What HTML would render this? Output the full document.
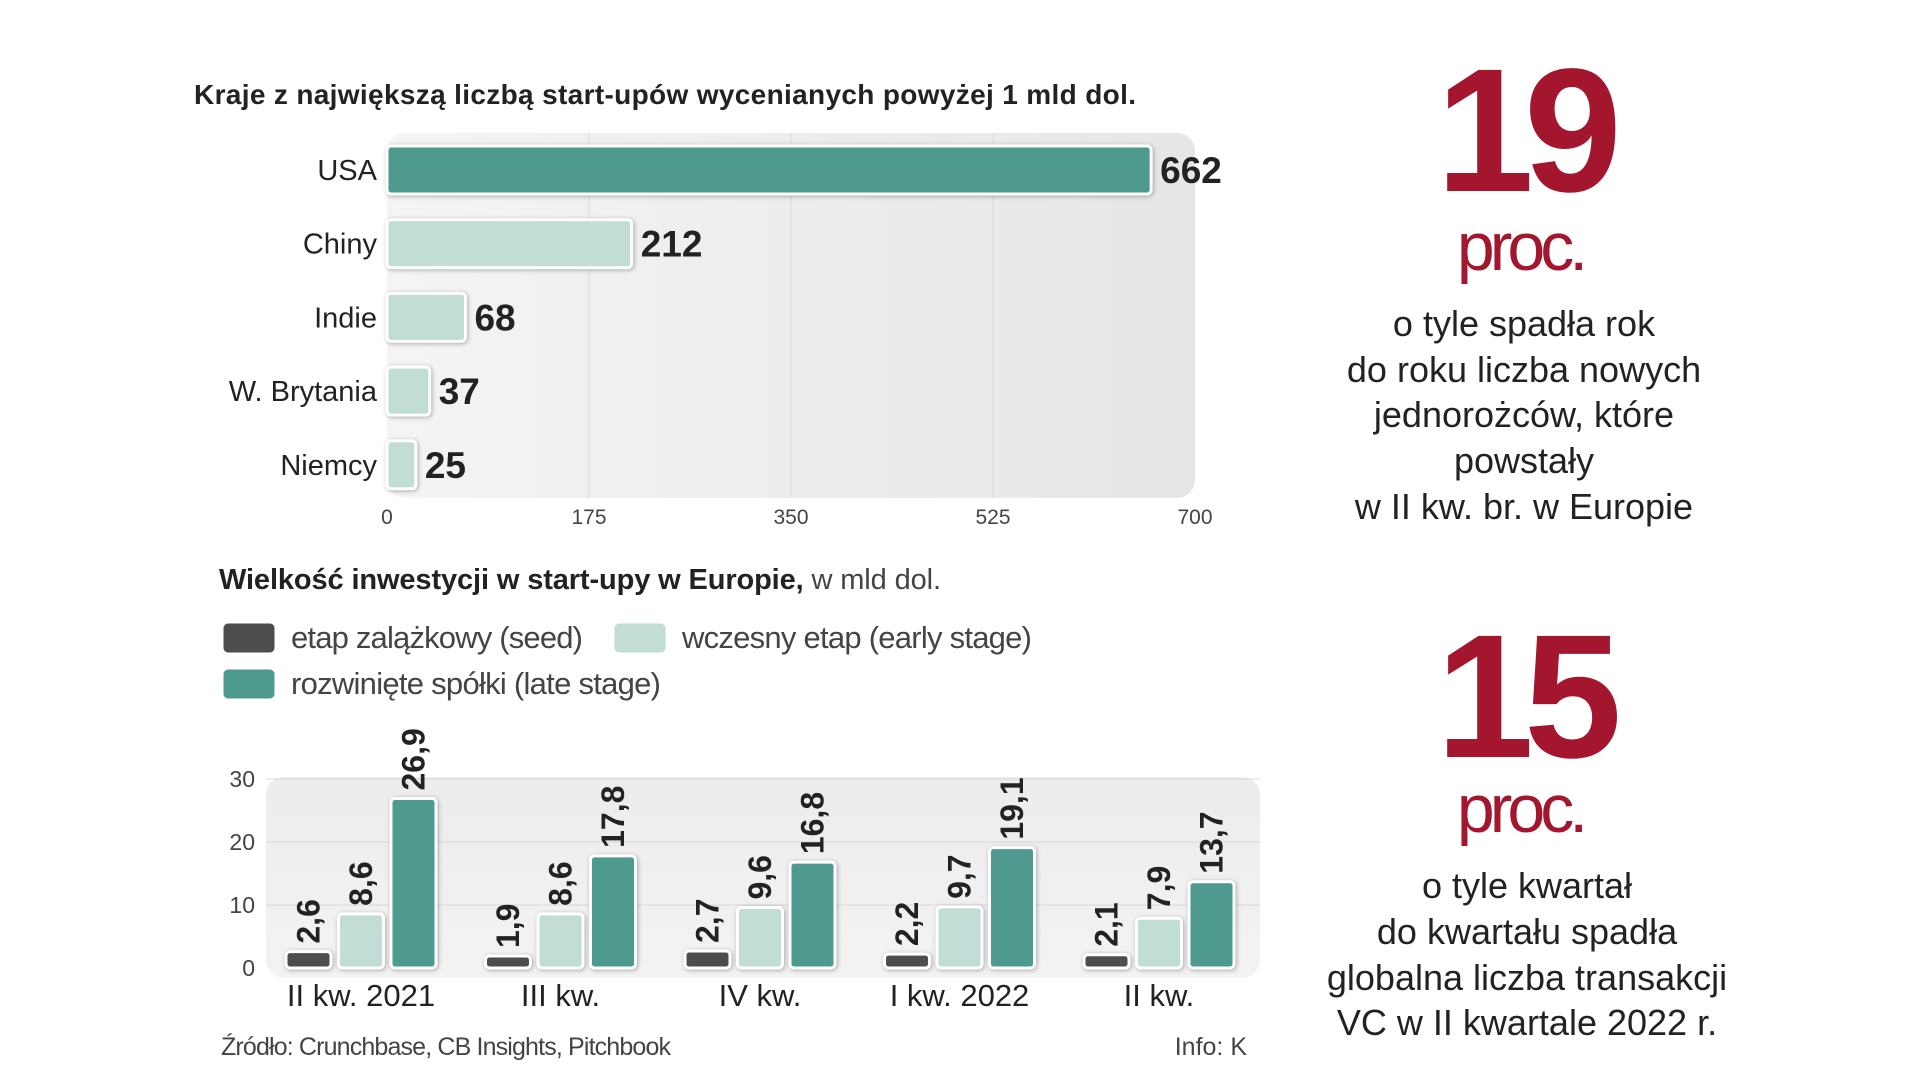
<!DOCTYPE html>
<html><head><meta charset="utf-8"><style>
body{margin:0;background:#fff;}
svg{display:block;font-family:"Liberation Sans Narrow","Liberation Sans",sans-serif;}
</style></head><body>
<svg id="c" width="1919" height="1080" viewBox="0 0 1919 1080">
<defs>
<linearGradient id="pg" x1="0" y1="0" x2="1" y2="0"><stop offset="0" stop-color="#f4f4f4"/><stop offset="1" stop-color="#e6e6e6"/></linearGradient>
<linearGradient id="pg2" x1="0" y1="0" x2="0" y2="1"><stop offset="0" stop-color="#ececec"/><stop offset="1" stop-color="#f3f3f3"/></linearGradient>
</defs>
<text x="194" y="104" font-size="28" font-weight="bold" fill="#222" textLength="942">Kraje z największą liczbą start-upów wycenianych powyżej 1 mld dol.</text>
<rect x="387" y="133" width="808" height="365" rx="18" fill="url(#pg)"/>
<g id="hb"></g>
<text x="219" y="589" font-size="29" fill="#222" textLength="722"><tspan font-weight="bold">Wielkość inwestycji w start-upy w Europie,</tspan><tspan fill="#444"> w mld dol.</tspan></text>
<g>
<rect x="222" y="622" width="54" height="32" rx="6" fill="#4d4d4d" stroke="#fff" stroke-width="3"/>
<text x="291" y="648" font-size="31" fill="#444" textLength="292">etap zalążkowy (seed)</text>
<rect x="613" y="622" width="54" height="32" rx="6" fill="#c2ddd5" stroke="#fff" stroke-width="3"/>
<text x="682" y="648" font-size="31" fill="#444" textLength="350">wczesny etap (early stage)</text>
<rect x="222" y="668" width="54" height="32" rx="6" fill="#4e9a8e" stroke="#fff" stroke-width="3"/>
<text x="291" y="694" font-size="31" fill="#444" textLength="370">rozwinięte spółki (late stage)</text>
</g>
<rect x="266" y="777" width="994" height="201" rx="18" fill="url(#pg2)"/>
<g id="vb"></g>
<text x="221" y="1055" font-size="25" fill="#444" textLength="450">Źródło: Crunchbase, CB Insights, Pitchbook</text>
<text x="1247" y="1055" font-size="25" fill="#444" text-anchor="end">Info: K</text>
<g fill="#a3162e" text-anchor="middle">
<text x="1524" y="191" font-size="176" font-weight="bold" letter-spacing="-10">19</text>
<text x="1520" y="270" font-size="68" letter-spacing="-5">proc.</text>
</g>
<g fill="#222" font-size="36" text-anchor="middle">
<text x="1524" y="336">o tyle spadła rok</text>
<text x="1524" y="382">do roku liczba nowych</text>
<text x="1524" y="427">jednorożców, które</text>
<text x="1524" y="473">powstały</text>
<text x="1524" y="519">w II kw. br. w Europie</text>
</g>
<g fill="#a3162e" text-anchor="middle">
<text x="1524" y="757" font-size="176" font-weight="bold" letter-spacing="-10">15</text>
<text x="1520" y="832" font-size="68" letter-spacing="-5">proc.</text>
</g>
<g fill="#222" font-size="36" text-anchor="middle">
<text x="1527" y="898">o tyle kwartał</text>
<text x="1527" y="944">do kwartału spadła</text>
<text x="1527" y="990">globalna liczba transakcji</text>
<text x="1527" y="1035">VC w II kwartale 2022 r.</text>
</g>
</svg>
<script>
const countries=["USA","Chiny","Indie","W. Brytania","Niemcy"];
const counts=[662,212,68,37,25];
const xTicks=[0,175,350,525,700];
const quarters=["II kw. 2021","III kw.","IV kw.","I kw. 2022","II kw."];
const seed=[2.6,1.9,2.7,2.2,2.1];
const early=[8.6,8.6,9.6,9.7,7.9];
const late=[26.9,17.8,16.8,19.1,13.7];
const yTicks=[0,10,20,30];
const NS="http://www.w3.org/2000/svg";
function mk(p,t,a,txt){const e=document.createElementNS(NS,t);for(const k in a)e.setAttribute(k,a[k]);if(txt!==undefined)e.textContent=txt;p.appendChild(e);return e;}
const hb=document.getElementById('hb');
const x=v=>387+v*808/700;
xTicks.forEach(t=>{
 if(t>0&&t<700){const l=mk(hb,'line',{x1:x(t),x2:x(t),y1:133,y2:498,stroke:'#dadada','stroke-width':1});
 
 }
 const tx=mk(hb,'text',{x:x(t),y:524,'font-size':21,fill:'#444','text-anchor':'middle'},String(t));
 
 
});
countries.forEach((c,i)=>{
 const cy=170+i*73.7;
 const r=mk(hb,'rect',{x:387,y:cy-24,width:x(counts[i])-387,height:48,rx:4,fill:i==0?'#4e9a8e':'#c2ddd5',stroke:'#fff','stroke-width':3,style:'filter:drop-shadow(1px 1px 2px rgba(0,0,0,.3))'});
 
 
 const l=mk(hb,'text',{x:377,y:cy+10,'font-size':29,fill:'#222','text-anchor':'end'},c);
 
 
 const v=mk(hb,'text',{x:x(counts[i])+9,y:cy+13,'font-size':37,'font-weight':'bold',fill:'#222'},String(counts[i]));
 
 
});
const vb=document.getElementById('vb');
const y=v=>968-v*6.3;
yTicks.forEach(t=>{
 if(t>0){const l=mk(vb,'line',{x1:266,x2:1260,y1:y(t),y2:y(t),stroke:'#d8d8d8','stroke-width':1});
 
 }
 const tx=mk(vb,'text',{x:255,y:y(t)+8,'font-size':23,fill:'#444','text-anchor':'end'},String(t));
 
 
});
const series=[[seed,'#4d4d4d','seed'],[early,'#c2ddd5','early'],[late,'#4e9a8e','late']];
quarters.forEach((q,i)=>{
 const gx=286+i*199.5;
 series.forEach(([arr,col,nm],j)=>{
  const bx=gx+j*52.5, v=arr[i], top=y(v);
  const r=mk(vb,'rect',{x:bx,y:top,width:45,height:968-top,rx:4,fill:col,stroke:'#fff','stroke-width':3,style:'filter:drop-shadow(1px 1px 2px rgba(0,0,0,.3))'});
  
  
  const lx=bx+22.5+11, ly=top-8;
  const t=mk(vb,'text',{x:lx,y:ly,'font-size':32,'font-weight':'bold',fill:'#222','font-family':'Liberation Sans, sans-serif',transform:`rotate(-90 ${lx} ${ly})`},String(v).replace('.',','));
  
  
 });
 const ql=mk(vb,'text',{x:gx+75,y:1006,'font-size':31,fill:'#222','text-anchor':'middle','font-family':'Liberation Sans, sans-serif'},q);
 
 
});
</script>
</body></html>
